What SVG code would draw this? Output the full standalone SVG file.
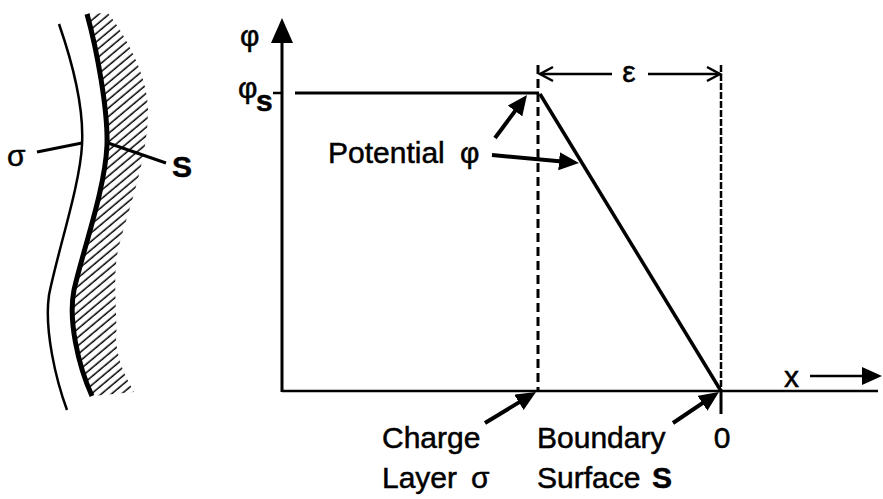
<svg xmlns="http://www.w3.org/2000/svg" width="883" height="499" viewBox="0 0 883 499">
<style>
.t{font-family:"Liberation Sans",Arial,sans-serif;font-size:30px;fill:#000;stroke:#000;stroke-width:0.5}
.ln{stroke:#000;fill:none;stroke-linecap:butt}
.ptr{stroke:#000;stroke-width:4;fill:none;marker-end:url(#ah)}
</style>
<defs>
<marker id="ah" viewBox="0 0 20 18" refX="14" refY="9" markerWidth="20" markerHeight="18" orient="auto" markerUnits="userSpaceOnUse">
<path d="M0,0 L20,9 L0,18 Z" fill="#000"/>
</marker>
<pattern id="hatch" patternUnits="userSpaceOnUse" width="6.5" height="6.5" patternTransform="rotate(-40)">
<line x1="0" y1="3" x2="6.5" y2="3" stroke="#000" stroke-width="1.5"/>
</pattern>
</defs>
<rect width="883" height="499" fill="#fff"/>

<g id="surface-sketch">
<path d="M87,14 C97,50 108,110 107,145 C105,190 83,250 74,290 C68,320 78,365 92,396 L134,392 C128,380 118,365 116,340 C118,320 112,280 118,250 C128,210 148,160 148,110 C148,75 125,35 108,13 Z" fill="url(#hatch)"/>
<path class="ln" stroke-width="2.5" d="M59,24 C75,70 84,110 82,145 C80,185 58,250 49,295 C44,330 56,380 67,410"/>
<path class="ln" stroke-width="5" d="M87,14 C97,50 108,110 107,145 C105,190 83,250 74,290 C68,320 78,365 92,396"/>
<line class="ln" stroke-width="3" x1="37" y1="152" x2="82" y2="143"/>
<line class="ln" stroke-width="3" x1="108" y1="143" x2="166" y2="163"/>
<text class="t" x="7" y="166" font-size="26">σ</text>
<text class="t" x="172" y="177" font-size="24" font-weight="bold">S</text>
</g>

<g id="axes">
<line class="ln" stroke-width="3" x1="282" y1="40" x2="282" y2="392"/>
<path d="M282,18 L271,43 L293,43 Z" fill="#000"/>
<line class="ln" stroke-width="2.5" x1="282" y1="391" x2="878" y2="391"/>
<line class="ln" stroke-width="2.5" x1="273" y1="93" x2="282" y2="93"/>
<text class="t" x="240" y="46" font-size="22">φ</text>
<text class="t" x="238" y="98" font-size="22">φ</text>
<text class="t" x="256" y="111" font-size="17" font-weight="bold">s</text>
<text class="t" x="784" y="387">x</text>
<line class="ln" stroke-width="2.5" x1="810" y1="376" x2="866" y2="376"/>
<path d="M882,376 L862,367 L862,385 Z" fill="#000"/>
<text class="t" x="722" y="448" text-anchor="middle">0</text>
</g>

<g id="potential-curve">
<line class="ln" stroke-width="3" x1="295" y1="93" x2="539" y2="93"/>
<line class="ln" stroke-width="3.5" x1="540" y1="94" x2="721" y2="391"/>
</g>

<g id="charge-layer-line">
<line class="ln" stroke-width="3" stroke-dasharray="9,5" x1="538" y1="65" x2="538" y2="391"/>
</g>

<g id="boundary-line">
<line class="ln" stroke-width="2.5" stroke-dasharray="7,2" x1="721" y1="65" x2="721" y2="391"/>
<line class="ln" stroke-width="3" x1="721" y1="391" x2="721" y2="414"/>
</g>

<g id="epsilon-dim">
<line class="ln" stroke-width="2.5" x1="540" y1="74" x2="612" y2="74"/>
<line class="ln" stroke-width="2.5" x1="648" y1="74" x2="720" y2="74"/>
<polyline class="ln" stroke-width="2.5" points="553,67 540,74 553,81"/>
<polyline class="ln" stroke-width="2.5" points="707,67 720,74 707,81"/>
<text class="t" x="629" y="82" font-size="27" text-anchor="middle">ε</text>
</g>

<g id="labels">
<text class="t" x="328" y="163">Potential<tspan x="460">φ</tspan></text>
<text class="t" x="382" y="448">Charge</text>
<text class="t" x="382" y="488">Layer<tspan x="471">σ</tspan></text>
<text class="t" x="537" y="448">Boundary</text>
<text class="t" x="537" y="488">Surface<tspan x="652" font-weight="bold">S</tspan></text>
</g>

<g id="connectors">
<line class="ptr" x1="495" y1="138" x2="523.4" y2="99.8"/>
<line class="ptr" x1="492" y1="155" x2="573" y2="162.5"/>
<line class="ptr" x1="485" y1="423" x2="530.9" y2="395.1"/>
<line class="ptr" x1="673" y1="423" x2="714" y2="395.4"/>
</g>
</svg>
